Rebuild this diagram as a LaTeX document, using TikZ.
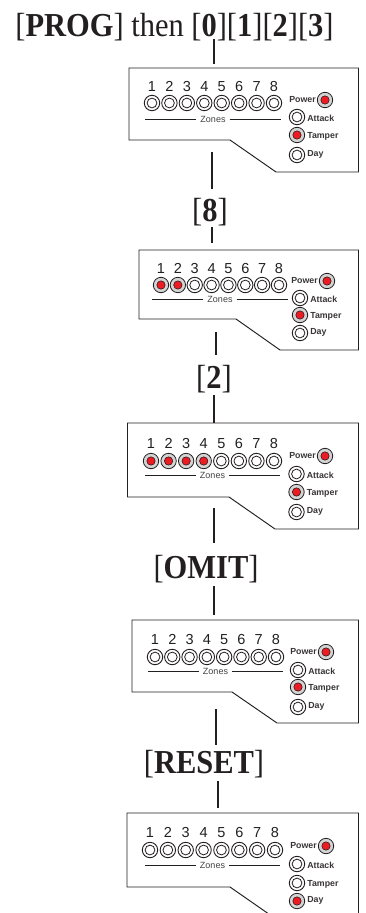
\documentclass[tikz,border=0pt]{standalone}
\usepackage{fontspec}
\setmainfont[FakeStretch=0.91]{Liberation Serif}
\newfontfamily\lsans{Liberation Sans}
\definecolor{ink}{HTML}{231F20}
\definecolor{ledred}{HTML}{ED1C24}
\definecolor{ledgrey}{HTML}{D4D4D4}
\tikzset{
  x=1pt,y=-1pt,
  conn/.style={draw=ink,line width=1.9pt},
  panelline/.style={draw=ink,line width=0.95pt,line join=miter},
  heading/.style={inner sep=0pt,text=ink,font=\fontsize{33.5}{35}\selectfont},
  digit/.style={inner sep=0pt,text height=10.4pt,text depth=0pt,text=ink,font=\lsans\fontsize{14.5}{15}\selectfont},
  zonesl/.style={inner sep=0pt,text=ink!85,font=\lsans\fontsize{9}{10}\selectfont},
  statusl/.style={inner sep=0pt,text=ink!90,font=\lsans\bfseries\fontsize{8.8}{10}\selectfont},
  ledoff/.style={circle,draw=ink,line width=0.9pt,fill=white,minimum size=15.4pt,inner sep=0pt,
    path picture={\draw[ink,line width=0.8pt] (path picture bounding box.center) circle (4.9pt);}},
  ledon/.style={circle,draw=ink,line width=0.8pt,fill=ledgrey,minimum size=15.4pt,inner sep=0pt,
    path picture={\draw[ink!70!black,line width=0.5pt,fill=ledred] (path picture bounding box.center) circle (4.2pt);}},
}
% outline: left, top, y of lower left, x of notch, bottom, x of notch end
\newcommand{\panelshape}[6]{%
  \draw[panelline] (#1,#2) -- (358.5,#2) -- (358.5,#5) -- (#6,#5) -- (#4,#3) -- (#1,#3) -- cycle;}
% zones: id, first x, last x, digit y, led y, rule y, number lit
\newcommand{\zonerow}[7]{%
  \foreach \n in {1,...,8}{%
    \pgfmathsetmacro{\zx}{#2+(\n-1)*(#3-#2)/7}%
    \node[digit] (#1d\n) at (\zx,#4) {\n};
    \pgfmathparse{\n<=#7 ? "ledon" : "ledoff"}%
    \edef\ledstyle{\pgfmathresult}%
    \node[\ledstyle] (#1z\n) at (\zx,#5) {};
  }
  \pgfmathsetmacro{\zc}{(#2+#3)/2}%
  \node[zonesl] (#1zones) at (\zc,#6) {Zones};
  \draw[draw=ink,line width=0.75pt] (#1zones.west) ++(-4,0) -- ++(-51,0);
  \draw[draw=ink,line width=0.75pt] (#1zones.east) ++(4,0) -- ++(51,0);
}
% status: id, power x, power y, x of others, attack y, tamper y, day y, tamper style, day style
\newcommand{\statusrow}[9]{%
  \node[ledon] (#1p) at (#2,#3) {};
  \node[statusl,anchor=east] (#1pl) at ([xshift=-1pt]#1p.west) {Power};
  \node[ledoff] (#1a) at (#4,#5) {};
  \node[statusl,anchor=west] (#1al) at ([xshift=2pt,yshift=-1pt]#1a.east) {Attack};
  \node[#8] (#1t) at (#4,#6) {};
  \node[statusl,anchor=west] (#1tl) at ([xshift=2pt,yshift=-1pt]#1t.east) {Tamper};
  \node[#9] (#1y) at (#4,#7) {};
  \node[statusl,anchor=west] (#1yl) at ([xshift=2pt,yshift=1pt]#1y.east) {Day};
}
\begin{document}
\begin{tikzpicture}
\useasboundingbox (0,0) rectangle (365,913);
\fill[white] (0,0) rectangle (365,913);
\clip (0,0) rectangle (365,913);

% headings
\node[heading,anchor=base] (h1) at (174.5,36) {[\textbf{PROG}] then [\textbf{0}][\textbf{1}][\textbf{2}][\textbf{3}]};
\node[heading,anchor=base] (h2) at (210,221) {[\textbf{8}]};
\node[heading,anchor=base] (h3) at (214,388) {[\textbf{2}]};
\node[heading,anchor=base] (h4) at (206,578) {[\textbf{OMIT}]};
\node[heading,anchor=base] (h5) at (204,773) {[\textbf{RESET}]};

% panel 1
\panelshape{129}{68}{140}{230}{172}{276}
\zonerow{a}{152}{274}{86}{103}{119}{0}
\statusrow{a}{325}{100}{297}{117}{135}{155}{ledon}{ledoff}
% panel 2
\panelshape{139}{250}{319}{236}{350}{280}
\zonerow{b}{161}{279}{268}{285}{299}{2}
\statusrow{b}{327}{281}{300}{298}{315}{333}{ledon}{ledoff}
% panel 3
\panelshape{127.5}{423}{497}{229}{529}{275}
\zonerow{c}{151}{274}{443}{461}{475}{4}
\statusrow{c}{325}{456}{296.5}{474}{492}{512}{ledon}{ledoff}
% panel 4
\panelshape{132}{620}{692}{232}{723}{277}
\zonerow{d}{155}{276}{639}{657}{671}{0}
\statusrow{d}{326}{652}{298}{670}{687}{707}{ledon}{ledoff}
% panel 5
\panelshape{127}{813}{887}{230}{919}{276}
\zonerow{e}{150}{275}{832}{850}{865}{0}
\statusrow{e}{326}{846}{297}{864}{883}{901}{ledoff}{ledon}

% connector ends
\coordinate (k1a) at (214,39);  \coordinate (k1b) at (214,64);
\coordinate (k2a) at (212,152); \coordinate (k2b) at (212,189);
\coordinate (k3a) at (212,227); \coordinate (k3b) at (212,243);
\coordinate (k4a) at (216,332); \coordinate (k4b) at (216,355);
\coordinate (k5a) at (214,395); \coordinate (k5b) at (214,423);
\coordinate (k6a) at (214,508); \coordinate (k6b) at (214,543);
\coordinate (k7a) at (214,586); \coordinate (k7b) at (214,615);
\coordinate (k8a) at (216,709); \coordinate (k8b) at (216,745);
\coordinate (k9a) at (218,781); \coordinate (k9b) at (218,808);
\foreach \k in {1,...,9}{\draw[conn] (k\k a) -- (k\k b);}
\end{tikzpicture}
\end{document}
